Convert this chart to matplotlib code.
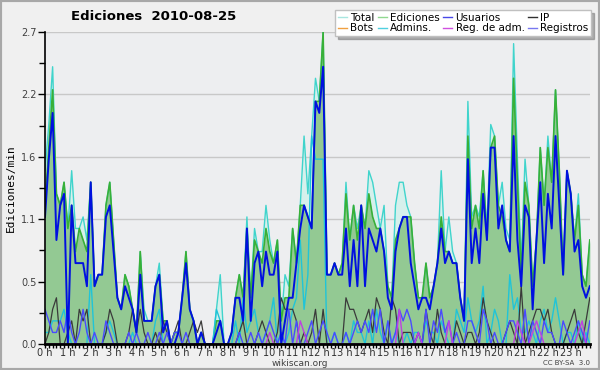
import numpy as np
import matplotlib
matplotlib.use("Agg")
import matplotlib.pyplot as plt
from matplotlib.lines import Line2D
from matplotlib.patches import Rectangle

# ediciones por intervalo de 10 minutos (se divide entre 10 -> ediciones/min)
total = [15, 19, 24, 13, 12, 14,  10, 15, 10, 10, 11, 9,  14, 5, 6, 6, 12, 14,
         9, 4, 3, 6, 5, 3,  1, 8, 3, 2, 2, 5,  7, 2, 2, 0, 1, 1,
         4, 8, 3, 2, 0, 1,  0, 0, 0, 3, 6, 0,  0, 1, 4, 6, 4, 11,
         4, 10, 8, 8, 12, 9,  7, 9, 2, 6, 5, 10,  7, 12, 18, 13, 18, 23,
         21, 27, 6, 6, 7, 6,  7, 14, 9, 12, 10, 12,  10, 15, 14, 12, 10, 12,
         5, 4, 12, 14, 14, 12,  11, 7, 4, 4, 7, 4,  5, 7, 15, 8, 11, 8,
         7, 4, 2, 21, 11, 12,  11, 15, 10, 19, 18, 12,  14, 10, 9, 26, 16, 7,
         16, 12, 5, 9, 17, 12,  18, 14, 22, 15, 6, 15,  13, 9, 13, 6, 5, 9]
ediciones = [12, 17, 22, 13, 12, 14,  10, 12, 8, 10, 9, 8,  14, 5, 6, 6, 12, 14,
             9, 4, 3, 6, 5, 3,  1, 8, 2, 2, 2, 5,  6, 2, 2, 0, 1, 1,
             4, 8, 3, 2, 0, 1,  0, 0, 0, 2, 2, 0,  0, 1, 4, 6, 4, 10,
             4, 9, 8, 7, 10, 8,  7, 9, 2, 4, 4, 10,  7, 12, 12, 11, 10, 21,
             21, 27, 6, 6, 7, 6,  7, 13, 9, 12, 9, 12,  10, 13, 11, 10, 10, 8,
             5, 4, 9, 10, 11, 11,  11, 7, 4, 4, 7, 4,  5, 7, 11, 8, 8, 7,
             7, 4, 2, 18, 10, 12,  10, 15, 9, 17, 18, 12,  11, 9, 8, 23, 14, 6,
             14, 12, 5, 9, 17, 12,  17, 14, 22, 15, 6, 15,  13, 9, 12, 6, 5, 9]
usuarios = [11, 16, 20, 9, 12, 13,  0, 12, 7, 7, 7, 5,  14, 5, 6, 6, 11, 12,
            8, 4, 3, 5, 4, 3,  1, 6, 2, 2, 2, 5,  6, 1, 2, 0, 0, 1,
            4, 7, 3, 2, 0, 1,  0, 0, 0, 1, 2, 0,  0, 1, 4, 4, 2, 10,
            2, 7, 8, 5, 8, 6,  6, 8, 0, 2, 4, 4,  7, 10, 12, 11, 10, 21,
            20, 24, 6, 6, 7, 6,  6, 10, 5, 9, 5, 12,  5, 10, 9, 8, 10, 8,
            4, 3, 8, 10, 11, 11,  7, 5, 3, 4, 4, 3,  5, 7, 10, 7, 8, 7,
            7, 4, 2, 16, 7, 10,  7, 13, 9, 17, 17, 10,  12, 9, 8, 18, 9, 5,
            12, 11, 3, 9, 14, 7,  13, 10, 18, 12, 6, 15,  13, 8, 9, 5, 4, 5]
ip = [0, 1, 3, 4, 0, 0,  1, 2, 0, 3, 2, 3,  0, 0, 0, 0, 1, 3,
      2, 0, 0, 0, 1, 3,  1, 3, 1, 0, 0, 1,  0, 2, 1, 0, 1, 2,
      0, 0, 1, 2, 1, 2,  0, 0, 0, 0, 0, 0,  0, 0, 0, 1, 2, 0,
      0, 0, 1, 2, 1, 0,  0, 1, 4, 3, 3, 3,  2, 0, 1, 0, 1, 3,
      0, 3, 0, 0, 0, 0,  0, 4, 3, 3, 2, 1,  2, 3, 1, 4, 3, 1,
      0, 4, 3, 0, 1, 1,  1, 0, 1, 0, 3, 1,  0, 3, 1, 0, 0, 0,
      2, 1, 0, 1, 1, 0,  1, 4, 2, 1, 0, 0,  0, 1, 2, 1, 0, 5,
      0, 1, 2, 3, 3, 2,  3, 1, 0, 0, 0, 1,  2, 3, 1, 0, 2, 4]
bots = [0] * 144
admins = [1, 1, 2, 2, 2, 3,  1, 0, 0, 0, 0, 0,  6, 0, 0, 0, 1, 2,
          1, 0, 0, 0, 0, 1,  0, 0, 0, 0, 0, 2,  3, 0, 0, 0, 0, 0,
          0, 0, 0, 0, 0, 0,  0, 0, 0, 3, 2, 0,  0, 0, 2, 0, 4, 1,
          2, 3, 1, 0, 1, 2,  4, 0, 1, 0, 1, 3,  4, 9, 3, 6, 18, 16,
          16, 16, 0, 0, 1, 0,  0, 1, 0, 2, 1, 1,  0, 2, 0, 3, 1, 0,
          2, 0, 1, 0, 0, 1,  0, 1, 1, 0, 2, 1,  1, 0, 2, 1, 0, 0,
          3, 2, 1, 4, 2, 1,  2, 5, 0, 1, 3, 2,  0, 0, 6, 3, 4, 1,
          1, 2, 1, 0, 2, 3,  1, 2, 4, 2, 0, 1,  1, 0, 2, 0, 1, 0]
reg_adm = [0, 0, 0, 0, 0, 0,  0, 0, 0, 0, 0, 0,  0, 0, 0, 0, 0, 0,
           0, 0, 0, 0, 0, 0,  0, 0, 0, 0, 0, 0,  0, 0, 0, 0, 0, 0,
           0, 0, 0, 0, 0, 0,  0, 0, 0, 0, 0, 0,  0, 0, 0, 0, 0, 0,
           0, 0, 0, 0, 0, 1,  0, 0, 0, 0, 0, 0,  0, 2, 1, 0, 0, 0,
           0, 0, 0, 0, 0, 0,  0, 0, 0, 0, 0, 0,  0, 0, 0, 0, 0, 0,
           0, 0, 0, 3, 0, 0,  0, 0, 1, 0, 0, 0,  0, 0, 0, 0, 2, 0,
           0, 0, 0, 0, 0, 0,  0, 0, 0, 0, 0, 0,  0, 0, 0, 0, 2, 1,
           0, 0, 1, 2, 1, 0,  0, 0, 0, 0, 0, 0,  0, 0, 1, 2, 0, 0]
registros = [3, 2, 1, 1, 2, 1,  3, 1, 0, 1, 3, 1,  0, 1, 0, 0, 2, 1,
             0, 0, 0, 0, 1, 0,  1, 0, 0, 1, 0, 0,  1, 0, 1, 0, 1, 1,
             0, 1, 0, 0, 0, 0,  0, 0, 0, 0, 0, 0,  0, 0, 0, 1, 0, 0,
             1, 0, 1, 0, 1, 2,  1, 0, 1, 0, 3, 0,  2, 0, 0, 1, 2, 0,
             1, 2, 1, 0, 1, 0,  0, 1, 0, 1, 2, 1,  2, 1, 3, 1, 3, 0,
             2, 0, 1, 3, 2, 3,  2, 0, 1, 0, 3, 0,  2, 1, 3, 1, 2, 0,
             1, 0, 0, 2, 2, 1,  0, 3, 2, 0, 1, 0,  0, 1, 2, 2, 1, 0,
             3, 0, 2, 1, 0, 2,  1, 1, 0, 0, 2, 1,  0, 1, 2, 1, 0, 2]

horas = [f"{h} h" for h in range(24)]

x = np.arange(144) / 6.0
def pm(v):
    return np.array(v) / 10.0

fig = plt.figure(figsize=(6, 3.7), dpi=100, facecolor="#f0f0f0")
fig.patches.append(Rectangle((0, 0), 1, 1, transform=fig.transFigure, fill=False,
                             edgecolor="#a8a8a8", lw=3, zorder=10))
ax = fig.add_axes([0.075, 0.0703, 0.908, 0.843])
ax.set_facecolor("#edeef0")

# rellenos
ax.fill_between(x, 0, pm(total), color="#d6f0ec", lw=0, zorder=1)
ax.fill_between(x, 0, pm(ediciones), color="#93c993", lw=0, zorder=2)

# lineas
ax.plot(x, pm(total), color="#40d4cc", lw=1, zorder=3)
ax.plot(x, pm(ediciones), color="#38b038", lw=1.2, zorder=4)
ax.plot(x, pm(bots), color="#f0a040", lw=1, zorder=4)
ax.plot(x, pm(admins), color="#20c4d8", lw=1, zorder=5)
ax.plot(x, pm(ip), color="#3a3a3a", lw=0.9, zorder=5)
ax.plot(x, pm(registros), color="#4a4aff", lw=1, zorder=6)
ax.plot(x, pm(reg_adm), color="#c040e0", lw=1, zorder=6)
ax.plot(x, pm(usuarios), color="#0010e0", lw=1.4, zorder=7)

ax.set_xlim(0, 143 / 6.0)
ax.set_ylim(0, 2.7)
yt = np.linspace(0, 2.7, 6)
ax.set_yticks(yt)
ax.set_yticklabels([f"{v:.1f}" for v in yt])
ax.set_yticks(np.linspace(0, 2.7, 11), minor=True)
ax.set_xticks(range(24))
ax.set_xticklabels(horas)
ax.set_xticks(x, minor=True)
ax.grid(axis="y", color="#c8c8c8", lw=1, zorder=0)
ax.set_axisbelow(True)

for s in ["top", "right"]:
    ax.spines[s].set_visible(False)
ax.spines["left"].set_linewidth(1.2)
ax.spines["bottom"].set_linewidth(2)
ax.spines["left"].set_zorder(8)
ax.spines["bottom"].set_zorder(8)
ax.tick_params(axis="y", which="major", length=5, width=1, labelsize=7, labelcolor="#404040", pad=1)
ax.tick_params(axis="y", which="minor", length=4, width=1)
ax.tick_params(axis="x", which="major", length=3, width=1, labelsize=7, labelcolor="#303030", pad=0)
ax.tick_params(axis="x", which="minor", length=3, width=1)

ax.set_ylabel("Ediciones/min", family="DejaVu Sans Mono", fontsize=8, labelpad=4)
fig.text(154 / 600, 1 - 17 / 370, "Ediciones  2010-08-25", ha="center", va="center",
         fontsize=9.5, fontweight="bold")
fig.text(300 / 600, 1 - 363 / 370, "wikiscan.org", ha="center", va="center",
         fontsize=6.5, color="#404040")
fig.text(590 / 600, 1 - 363 / 370, "CC BY-SA  3.0", ha="right", va="center",
         fontsize=5, color="#404040")

nombres = ["Total", "Ediciones", "Usuarios", "IP",
           "Bots", "Admins.", "Reg. de adm.", "Registros"]
colores = ["#a8e6e0", "#90d890", "#4848e8", "#303030",
           "#f0a040", "#50d0e0", "#d050e0", "#7878f0"]
orden = [0, 4, 1, 5, 2, 6, 3, 7]
handles = [Line2D([], [], color=colores[k], lw=1) for k in orden]
leg = fig.legend(handles, [nombres[k] for k in orden], ncol=4, loc="upper right",
                 bbox_to_anchor=(0.985, 0.972), fontsize=7.5, frameon=True,
                 fancybox=False, shadow={"color": "#707070"}, edgecolor="#c0c0c0",
                 handlelength=0.9, handletextpad=0.3, columnspacing=0.3,
                 labelspacing=0.05, borderpad=0.25, borderaxespad=0)
leg.get_frame().set_linewidth(1)

fig.savefig("out.png", dpi=100, facecolor=fig.get_facecolor())
